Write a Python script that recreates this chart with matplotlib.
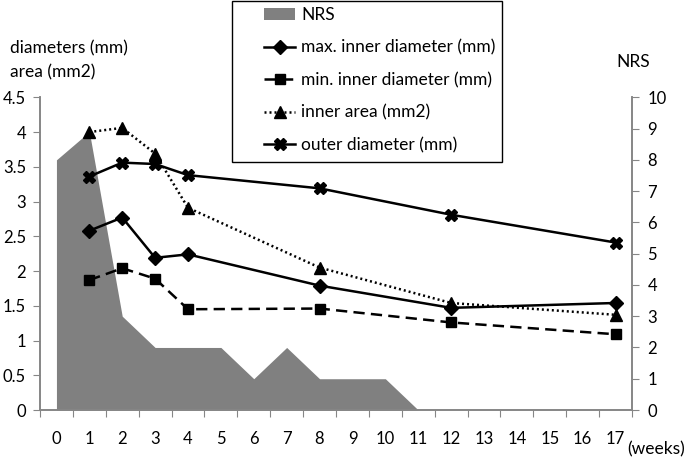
import matplotlib.pyplot as plt
from matplotlib.patches import Patch, Rectangle
from matplotlib.lines import Line2D

plt.rcParams['font.family'] = ['Lato', 'DejaVu Sans']

weeks = [str(w) for w in range(18)]

# NRS pain score (right axis), weeks 0..11
nrs_weeks = [0, 1, 2, 3, 4, 5, 6, 7, 8, 9, 10, 11]
nrs = [8, 8.9, 3, 2, 2, 2, 1, 2, 1, 1, 1, 0]

# measurements (left axis)
meas_weeks = [1, 2, 3, 4, 8, 12, 17]
max_inner = [2.58, 2.77, 2.19, 2.24, 1.79, 1.47, 1.54]
min_inner = [1.87, 2.04, 1.89, 1.45, 1.46, 1.26, 1.09]
inner_area = [4.0, 4.06, 3.69, 2.91, 2.05, 1.54, 1.37]
outer_diam = [3.36, 3.56, 3.54, 3.38, 3.19, 2.81, 2.41]

fig = plt.figure(figsize=(6.85, 4.61), dpi=100)
ax = fig.add_axes([40 / 685, 1 - 410 / 461, 592 / 685, 312.7 / 461])
ax2 = ax.twinx()
ax.set_zorder(ax2.get_zorder() + 1)
ax.patch.set_visible(False)

grey = '#808080'
spine_c = '#868686'

ax2.fill_between(nrs_weeks, nrs, 0, color=grey, lw=0)

lw = 1.8
ax.plot(meas_weeks, max_inner, color='black', lw=lw, marker='D', ms=7)
ax.plot(meas_weeks, min_inner, color='black', lw=lw, marker='s', ms=7,
        linestyle=(0, (4.5, 2.5)))
ax.plot(meas_weeks, inner_area, color='black', lw=lw, marker='^', ms=8,
        linestyle=(0, (0.8, 1.2)))
ax.plot(meas_weeks, outer_diam, color='black', lw=lw, marker='X', ms=8)

ax.set_xlim(-0.5, 17.5)
ax.set_ylim(0, 4.5)
ax2.set_ylim(0, 10)
ax.set_yticks([0, 0.5, 1, 1.5, 2, 2.5, 3, 3.5, 4, 4.5])
ax.set_yticklabels(['0', '0.5', '1', '1.5', '2', '2.5', '3', '3.5', '4', '4.5'])
ax2.set_yticks(range(11))

ax.set_xticks([i - 0.5 for i in range(19)])
ax.set_xticklabels([])
ax.set_xticks(range(18), minor=True)
ax.set_xticklabels(weeks, minor=True)
ax.tick_params(axis='x', which='major', length=5, color=spine_c, direction='out')
ax.tick_params(axis='x', which='minor', length=0, pad=15, labelsize=12)
ax.tick_params(axis='y', length=5, color=spine_c, labelsize=12, pad=5)
ax2.tick_params(axis='y', length=5, color=spine_c, labelsize=12, pad=6)

for a in (ax, ax2):
    a.spines['top'].set_visible(False)
    for s in ('left', 'right', 'bottom'):
        a.spines[s].set_color(spine_c)
        a.spines[s].set_linewidth(1.2)

fs = 12.5
fig.text(10 / 685, 1 - 48 / 461, 'diameters (mm)', fontsize=fs, va='center')
fig.text(10 / 685, 1 - 72 / 461, 'area (mm2)', fontsize=fs, va='center')
fig.text(633 / 685, 1 - 62 / 461, 'NRS', fontsize=fs, va='center', ha='center')
fig.text(1.0, 1 - 449 / 461, '(weeks)', fontsize=fs, va='center', ha='right')

handles = [
    Patch(facecolor=grey, edgecolor='none'),
    Line2D([], [], color='black', lw=lw, marker='D', ms=7),
    Line2D([], [], color='black', lw=lw, marker='s', ms=7, linestyle=(0, (4.5, 2.5))),
    Line2D([], [], color='black', lw=lw, marker='^', ms=8, linestyle=(0, (0.8, 1.2))),
    Line2D([], [], color='black', lw=lw, marker='X', ms=8),
]
labels = ['NRS', 'max. inner diameter (mm)', 'min. inner diameter (mm)',
          'inner area (mm2)', 'outer diameter (mm)']
fig.legend(handles, labels, loc='upper left',
           bbox_to_anchor=(264 / 685, 1 - 7 / 461),
           frameon=False, fontsize=fs, labelspacing=0.95, handlelength=1.8,
           handletextpad=0.35, borderpad=0, borderaxespad=0)
fig.add_artist(Rectangle((232 / 685, 1 - 162 / 461), 270 / 685, 161 / 461,
                         transform=fig.transFigure, fill=False,
                         edgecolor='black', linewidth=1))

fig.savefig('out.png', dpi=100)
